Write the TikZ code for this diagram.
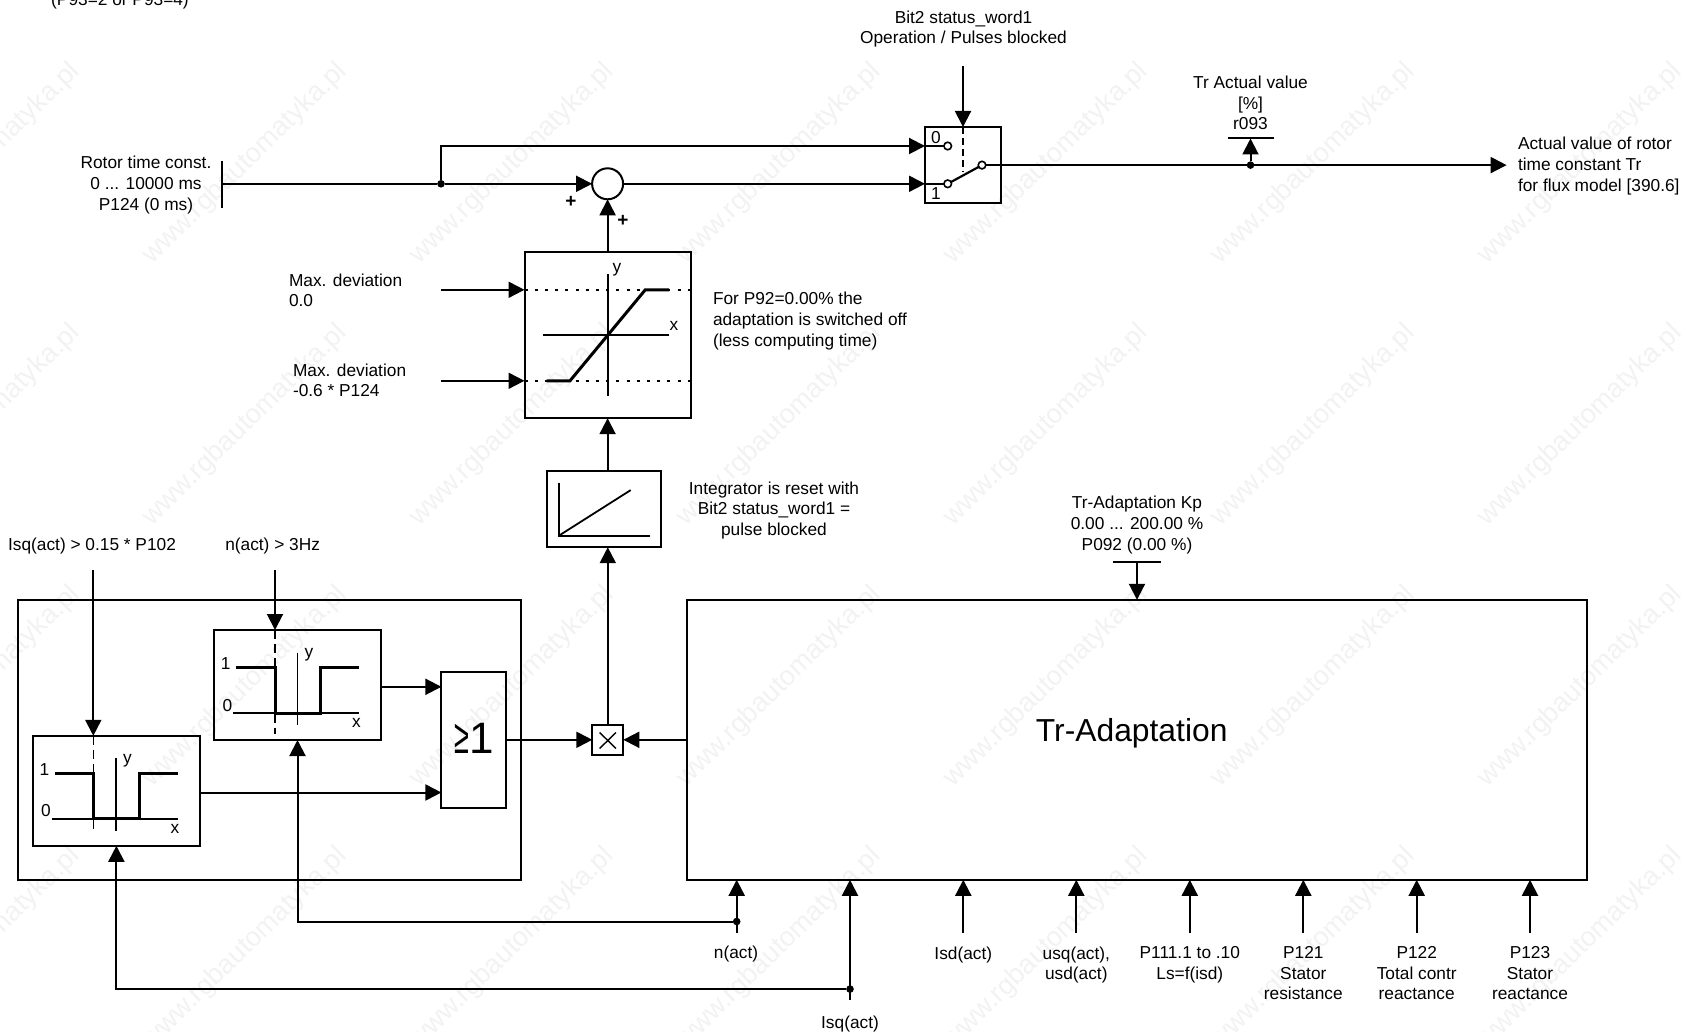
\documentclass[tikz,border=0pt]{standalone}
\usepackage{fontspec}
\setmainfont{Liberation Sans}
\usetikzlibrary{arrows.meta,calc}
\definecolor{wmark}{gray}{0.95}
\tikzset{
  lbl/.style={inner sep=0pt,outer sep=0pt,align=center,yshift=-0.6pt,font=\fontsize{8.65}{10.3}\selectfont},
  lbll/.style={lbl,align=left,anchor=west},
  small/.style={inner sep=0pt,outer sep=0pt,font=\fontsize{8.65}{10}\selectfont},
  boxn/.style={draw,line width=1pt,inner sep=0pt,outer sep=0pt},
  wire/.style={line width=1pt},
  arr/.style={line width=1pt,-{Triangle[length=8pt,width=8pt]}},
  thin1/.style={line width=0.8pt},
  curve/.style={line width=1.5pt,line join=miter},
  tick/.style={line width=1pt},
  dot/.style={circle,fill=black,inner sep=0pt,outer sep=0pt,minimum size=3.8pt},
  contact/.style={circle,draw,fill=white,line width=0.8pt,inner sep=0pt,outer sep=0pt,minimum size=3.8pt},
  dsh/.style={line width=0.65pt,dash pattern=on 4.5pt off 2.5pt},
  dtd/.style={line width=0.8pt,dash pattern=on 1.5pt off 3.6pt},
  wm/.style={inner sep=0pt,text=wmark,rotate=44.5,font=\fontsize{13.6}{14}\selectfont}
}
\begin{document}
\begin{tikzpicture}[x=0.5pt,y=-0.5pt]
\useasboundingbox (0,-0.8) rectangle (1686,1031.2);
% watermark
\foreach \i in {0,...,6}{\foreach \j in {0,...,3}{
  \node[wm] (wm\i\j) at ({-22+267*\i},{163+261.5*\j}) {www.rgbautomatyka.pl};
}}
% top-left clipped text
\node[lbl] (note) at (120,-1) {(P93=2 or P93=4)};
% rotor input
\node[lbl] (rotorlbl) at (146,183) {Rotor time const.\\0 ... 10000 ms\\P124 (0 ms)};
\coordinate (rt) at (222,160);
\coordinate (rb) at (222,207);
\coordinate (rotor) at (222,183);
\draw[tick] (rt) -- (rb);
\node[dot] (j1) at (441,183) {};
% summing
\node[boxn,circle,minimum size=15.5pt] (sum) at (607.6,183) {};
\node[boxn,minimum width=38pt,minimum height=38pt] (sw) at (963,164.2) {};
\draw[wire] (rotor) -- (j1);
\draw[arr] (j1) -- (sum.west);
\draw[arr] (j1) |- (sw.west |- 0,145.2);
\draw[arr] (sum.east) -- (sw.west |- sum);
\node[font=\bfseries\fontsize{9.5}{10}\selectfont,inner sep=0pt] (pl1) at (571,201) {+};
\node[font=\bfseries\fontsize{9.5}{10}\selectfont,inner sep=0pt] (pl2) at (623,220) {+};
% switch
\node[lbl] (bitlbl) at (963.5,27) {Bit2 status\_word1\\Operation / Pulses blocked};
\coordinate (bittop) at (963,65);
\draw[arr] (bittop) -- (sw.north);
\node[contact] (c0) at (947.7,145.2) {};
\node[contact] (c1) at (947.7,183) {};
\node[contact] (c2) at (982,164.3) {};
\draw[wire] (sw.west |- c0) -- (c0);
\draw[wire] (sw.west |- c1) -- (c1);
\draw[curve,line width=1.1pt] (c1) -- (c2);
\draw[line width=0.7pt,dash pattern=on 3.5pt off 2pt] (sw.north) -- (963,171);
\node[small] (s0) at (936,137) {0};
\node[small] (s1) at (936,192.5) {1};
% output
\node[dot] (j2) at (1250.5,164.3) {};
\coordinate (outend) at (1506.6,164.3);
\draw[wire] (c2) -- (j2);
\draw[arr] (j2) -- (outend);
\coordinate (trl) at (1227.5,137.7);
\coordinate (trr) at (1273.6,137.7);
\coordinate (trm) at (1250.5,137.7);
\draw[tick] (trl) -- (trr);
\draw[arr] (j2) -- (trm);
\node[lbl] (trlbl) at (1250.5,101) {Tr Actual value\\{}[\%]\\r093};
\node[lbll] (outlbl) at (1518,164) {Actual value of rotor\\time constant Tr\\for flux model [390.6]};
% limiter
\node[boxn,minimum width=83.25pt,minimum height=83.2pt] (lim) at (607.75,334.2) {};
\draw[arr] (lim.north -| sum) -- (sum.south);
\coordinate (in1) at (441,289);
\coordinate (in2) at (441,380);
\draw[arr] (in1) -- (lim.west |- in1);
\draw[arr] (in2) -- (lim.west |- in2);
\draw[dtd] (lim.west |- in1) -- (lim.east |- in1);
\draw[dtd] (lim.west |- in2) -- (lim.east |- in2);
\draw[thin1] (607.7,273) -- (607.7,395);
\draw[thin1] (543,334.3) -- (668.7,334.3);
\draw[curve] (546.5,380) -- (570,380) -- (645.3,289) -- (669,289);
\node[small] (limy) at (617,269) {y};
\node[small] (limx) at (674,325) {x};
\node[lbl] (m1) at (289,288.5) [anchor=west,align=left] {Max. deviation\\0.0};
\node[lbl] (m2) at (293,378.5) [anchor=west,align=left] {Max. deviation\\-0.6 * P124};
\node[lbll] (p92) at (713,319) {For P92=0.00\% the\\adaptation is switched off\\(less computing time)};
% integrator
\node[boxn,minimum width=57pt,minimum height=38.2pt] (int) at (604,508.2) {};
\draw[arr] (int.north -| sum) -- (lim.south -| sum);
\draw[line width=1pt] (558.7,481.7) -- (558.7,535) -- (649.7,535);
\draw[line width=0.9pt] (558.7,535) -- (630.7,489.3);
\node[lbl] (intlbl) at (774,508.5) {Integrator is reset with\\Bit2 status\_word1 =\\pulse blocked};
% multiply
\node[boxn,minimum width=15.5pt,minimum height=15.2pt] (mul) at (607.8,739) {};
\draw[line width=0.7pt] (599.6,731.7) -- (616,747.7) (616,731.7) -- (599.6,747.7);
\draw[arr] (mul.north) -- (int.south -| mul);
% outer left box
\node[boxn,minimum width=251.5pt,minimum height=140pt] (outer) at (269.5,739) {};
% box A
\node[boxn,minimum width=83.5pt,minimum height=55pt] (ba) at (116.2,790) {};
% box B
\node[boxn,minimum width=83.5pt,minimum height=55pt] (bb) at (297.8,684.2) {};
% OR
\node[boxn,minimum width=32.3pt,minimum height=68.3pt] (orb) at (473.7,739) {};
\node[inner sep=0pt] (orl) at (474.5,738) {\scalebox{1}[1.8]{\fontsize{13.5}{14}\selectfont ≥}\fontsize{22}{22}\selectfont 1};
\draw[arr] (bb.east |- 0,686) -- (orb.west |- 0,686);
\draw[arr] (ba.east |- 0,791.7) -- (orb.west |- 0,791.7);
\draw[arr] (orb.east) -- (mul.west);
% Tr-Adaptation
\node[boxn,minimum width=450.25pt,minimum height=140pt] (tra) at (1136.75,739) {};
\node[inner sep=0pt,font=\fontsize{15.9}{18}\selectfont] (tral) at (1131.7,732) {Tr-Adaptation};
\draw[arr] (tra.west) -- (mul.east);
\node[lbl] (kp) at (1137,523) {Tr-Adaptation Kp\\0.00 ... 200.00 \%\\P092 (0.00 \%)};
\coordinate (kpl) at (1113,561.3);
\coordinate (kpr) at (1161,561.3);
\coordinate (kpm) at (1137,561.3);
\draw[tick] (kpl) -- (kpr);
\draw[arr] (kpm) -- (tra.north -| kpm);
% box A curve
\draw[dsh] (ba.north -| 93.3,0) -- (93.3,832);
\draw[thin1] (116.2,757) -- (116.2,830);
\draw[thin1] (51.5,818) -- (177.5,818);
\draw[curve] (55,773) -- (93.3,773) -- (93.3,818) -- (139,818) -- (139,773) -- (177.5,773);
\node[small] (a1) at (44.5,769) {1};
\node[small] (a0) at (46,810) {0};
\node[small] (ay) at (127.5,760) {y};
\node[small] (ax) at (175,828) {x};
% box B curve
\draw[dsh] (bb.north -| 275,0) -- (275,733);
\draw[thin1] (297.5,651.7) -- (297.5,724.3);
\draw[thin1] (232.9,712.3) -- (359,712.3);
\draw[curve] (236.4,667) -- (275,667) -- (275,712.3) -- (320.7,712.3) -- (320.7,667) -- (359,667);
\node[small] (b1) at (225.7,663) {1};
\node[small] (b0) at (227.5,704.3) {0};
\node[small] (by) at (309,654) {y};
\node[small] (bx) at (356.4,722) {x};
% top inputs to A,B
\node[lbl] (la) at (92,544) {Isq(act) > 0.15 * P102};
\node[lbl] (lb) at (272.6,544) {n(act) > 3Hz};
\coordinate (ta) at (93.3,569);
\coordinate (tb) at (275,569);
\draw[arr] (ta) -- (ba.north -| ta);
\draw[arr] (tb) -- (bb.north -| tb);
% bottom inputs
\coordinate (nb) at (736.7,932.3);
\node[dot] (jn) at (736.7,920.7) {};
\coordinate (isqb) at (850,999);
\node[dot] (jq) at (850,988.3) {};
\draw[arr] (nb) -- (tra.south -| nb);
\draw[arr] (isqb) -- (tra.south -| isqb);
\draw[arr] (jn) -| (bb.south -| 297.5,0);
\draw[arr] (jq) -| (ba.south -| 116.4,0);
\node[lbl] (ln) at (736,951.7) {n(act)};
\node[lbl] (lq) at (850,1021.7) {Isq(act)};
\foreach \n/\x in {isd/963.3,usq/1076.3,p111/1189.8,p121/1303.3,p122/1416.7,p123/1530}{
  \coordinate (\n b) at (\x,932.3);
  \draw[arr] (\n b) -- (tra.south -| \n b);
}
\node[lbl,anchor=north] (ld) at (963.3,944.5) {Isd(act)};
\node[lbl,anchor=north] (lu) at (1076.3,944.5) {usq(act),\\usd(act)};
\node[lbl,anchor=north] (lp) at (1189.8,944.5) {P111.1 to .10\\Ls=f(isd)};
\node[lbl,anchor=north] (l1) at (1303.3,944.5) {P121\\Stator\\resistance};
\node[lbl,anchor=north] (l2) at (1416.7,944.5) {P122\\Total contr\\reactance};
\node[lbl,anchor=north] (l3) at (1530,944.5) {P123\\Stator\\reactance};
\end{tikzpicture}
\end{document}
